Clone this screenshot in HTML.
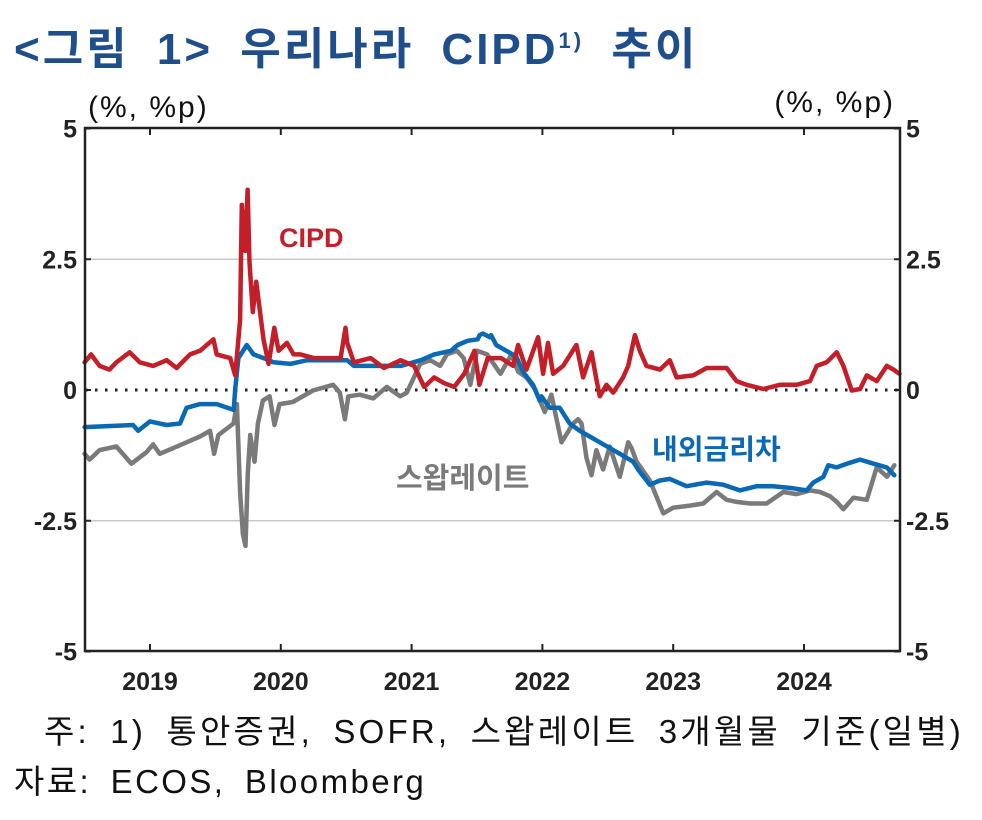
<!DOCTYPE html>
<html><head><meta charset="utf-8"><style>
html,body{margin:0;padding:0;background:#fff;}
body{width:982px;height:820px;position:relative;overflow:hidden;font-family:"Liberation Sans","Noto Sans CJK KR",sans-serif;}
.t{position:absolute;white-space:nowrap;}
</style></head><body>
<div class="t" style="left:14px;top:13px;font-size:44px;font-weight:bold;color:#1f4e8c;letter-spacing:3px;word-spacing:12px;">&lt;그림 1&gt; 우리나라 CIPD<sup style="font-size:22px;vertical-align:16px;">1)</sup> 추이</div>
<svg id="chart" width="982" height="820" style="position:absolute;left:0;top:0;" xmlns="http://www.w3.org/2000/svg"></svg>
<div class="t" style="left:44px;top:705px;font-size:33px;color:#111;letter-spacing:3.2px;word-spacing:8px;">주: 1) 통안증권, SOFR, 스왑레이트 3개월물 기준(일별)</div>
<div class="t" style="left:14px;top:755px;font-size:33px;color:#111;letter-spacing:2.4px;word-spacing:8px;">자료: ECOS, Bloomberg</div>
<script>
const yTicks=[5,2.5,0,-2.5,-5];
const yTickLabels=["5","2.5","0","-2.5","-5"];
const xTicks=[2019.5,2020.5,2021.5,2022.5,2023.5,2024.5];
const xTickLabels=["2019","2020","2021","2022","2023","2024"];
const cipdT=[2019.0,2019.05,2019.115,2019.19,2019.243,2019.345,2019.422,2019.524,2019.627,2019.703,2019.806,2019.882,2019.985,2020.01,2020.113,2020.151,2020.189,2020.202,2020.228,2020.246,2020.261,2020.286,2020.312,2020.368,2020.407,2020.45,2020.483,2020.547,2020.598,2020.65,2020.752,2020.854,2020.957,2020.995,2021.008,2021.059,2021.187,2021.289,2021.417,2021.519,2021.596,2021.673,2021.749,2021.826,2021.903,2021.98,2022.018,2022.082,2022.184,2022.276,2022.314,2022.378,2022.467,2022.505,2022.543,2022.582,2022.658,2022.76,2022.811,2022.875,2022.913,2022.939,2022.99,2023.041,2023.117,2023.156,2023.207,2023.245,2023.296,2023.398,2023.474,2023.526,2023.653,2023.755,2023.908,2023.985,2024.061,2024.189,2024.316,2024.444,2024.546,2024.597,2024.673,2024.75,2024.801,2024.865,2024.929,2024.98,2025.056,2025.133,2025.184,2025.23];
const cipdV=[0.53,0.68,0.46,0.39,0.53,0.72,0.53,0.46,0.57,0.42,0.68,0.75,0.97,0.68,0.61,0.28,1.34,3.54,2.66,3.83,2.44,1.49,2.07,0.97,0.5,1.19,0.75,0.9,0.68,0.68,0.61,0.61,0.61,1.19,0.9,0.53,0.61,0.42,0.57,0.46,0.06,0.24,0.13,0.06,0.31,0.75,0.1,0.61,0.61,0.46,0.86,0.39,1.01,0.31,0.9,0.31,0.46,0.86,0.24,0.72,0.2,-0.12,0.1,-0.05,0.24,0.46,1.05,0.75,0.46,0.39,0.57,0.24,0.28,0.42,0.42,0.17,0.1,0.02,0.1,0.1,0.17,0.46,0.53,0.72,0.46,-0.01,0.02,0.28,0.17,0.46,0.39,0.31];
const gapT=[2019.0,2019.37,2019.41,2019.5,2019.627,2019.729,2019.78,2019.882,2020.01,2020.14,2020.151,2020.176,2020.24,2020.291,2020.368,2020.445,2020.573,2020.701,2020.905,2021.008,2021.059,2021.417,2021.57,2021.673,2021.8,2021.852,2021.928,2022.005,2022.044,2022.108,2022.02,2022.097,2022.147,2022.224,2022.3,2022.352,2022.428,2022.479,2022.492,2022.556,2022.632,2022.709,2022.786,2022.862,2022.939,2023.092,2023.194,2023.232,2023.321,2023.398,2023.474,2023.602,2023.755,2023.883,2024.01,2024.138,2024.265,2024.418,2024.52,2024.571,2024.648,2024.686,2024.75,2024.827,2024.929,2025.031,2025.133,2025.19];
const gapV=[-0.71,-0.67,-0.78,-0.6,-0.67,-0.64,-0.34,-0.27,-0.27,-0.38,0.02,0.61,0.86,0.68,0.61,0.53,0.5,0.57,0.57,0.57,0.46,0.46,0.57,0.68,0.75,0.86,0.94,0.97,1.08,1.05,1.05,1.01,0.86,0.75,0.64,0.35,0.1,-0.2,-0.12,-0.34,-0.34,-0.64,-0.78,-0.89,-1.0,-1.22,-1.37,-1.52,-1.81,-1.73,-1.7,-1.84,-1.77,-1.81,-1.92,-1.84,-1.84,-1.88,-1.92,-1.77,-1.66,-1.44,-1.48,-1.41,-1.33,-1.41,-1.48,-1.63];
const swapT=[2019.0,2019.038,2019.115,2019.243,2019.358,2019.473,2019.524,2019.575,2019.678,2019.78,2019.882,2019.959,2019.99,2020.023,2020.138,2020.164,2020.189,2020.21,2020.23,2020.248,2020.266,2020.299,2020.325,2020.363,2020.414,2020.452,2020.49,2020.592,2020.746,2020.9,2020.951,2020.99,2021.016,2021.105,2021.207,2021.31,2021.412,2021.463,2021.566,2021.642,2021.719,2021.77,2021.847,2021.898,2021.949,2022.0,2022.077,2022.18,2022.263,2022.314,2022.378,2022.442,2022.518,2022.569,2022.646,2022.735,2022.773,2022.799,2022.837,2022.875,2022.913,2022.964,2023.015,2023.092,2023.156,2023.181,2023.22,2023.322,2023.424,2023.5,2023.628,2023.73,2023.832,2023.908,2023.985,2024.087,2024.214,2024.342,2024.444,2024.546,2024.622,2024.699,2024.75,2024.801,2024.878,2024.98,2025.056,2025.135,2025.19];
const swapV=[-1.22,-1.33,-1.15,-1.08,-1.41,-1.19,-1.04,-1.22,-1.11,-1.0,-0.89,-0.78,-1.22,-0.86,-0.64,-0.27,-1.95,-2.76,-2.98,-1.59,-0.86,-1.37,-0.64,-0.2,-0.12,-0.67,-0.27,-0.23,-0.01,0.1,-0.05,-0.56,-0.12,-0.09,-0.16,0.06,-0.12,-0.05,0.5,0.57,0.46,0.68,0.75,0.61,0.1,0.75,0.68,0.31,0.68,0.35,0.24,0.02,-0.42,-0.09,-1.0,-0.64,-0.56,-0.64,-1.3,-1.63,-1.15,-1.52,-1.08,-1.66,-1.0,-1.11,-1.37,-1.73,-2.36,-2.25,-2.21,-2.17,-1.95,-2.1,-2.14,-2.17,-2.17,-1.95,-1.99,-1.92,-1.95,-2.03,-2.14,-2.28,-2.06,-2.1,-1.48,-1.66,-1.44,-1.66,-1.95,-1.99];
const L=85,R=900,T=128,B=651;
function X(t){return 150+(t-2019.5)*130.8;}
function Y(v){return 390-v*52.3;}
const NS="http://www.w3.org/2000/svg";
const svg=document.getElementById('chart');
function mk(tag,attrs){const e=document.createElementNS(NS,tag);for(const k in attrs)e.setAttribute(k,attrs[k]);svg.appendChild(e);return e;}
yTicks.forEach((v,i)=>{
  if(v===2.5||v===-2.5){const g=mk('line',{x1:L,x2:R,y1:Y(v),y2:Y(v),stroke:'#c8c8c8','stroke-width':1.5});
  
  }
  const tl=mk('line',{x1:L,x2:L+6,y1:Y(v),y2:Y(v),stroke:'#222','stroke-width':2});
  
  
  const tr=mk('line',{x1:R-6,x2:R,y1:Y(v),y2:Y(v),stroke:'#222','stroke-width':2});
  
  
  const a=mk('text',{x:77,y:Y(v)+9,'text-anchor':'end','font-size':25,'font-weight':'bold',fill:'#222','font-family':'Liberation Sans, sans-serif'});
  a.textContent=yTickLabels[i];
  
  
  const b=mk('text',{x:906,y:Y(v)+9,'text-anchor':'start','font-size':25,'font-weight':'bold',fill:'#222','font-family':'Liberation Sans, sans-serif'});
  b.textContent=yTickLabels[i];
  
  
});
xTicks.forEach((t,i)=>{
  const a=mk('line',{x1:X(t),x2:X(t),y1:T,y2:T+7,stroke:'#222','stroke-width':2});
  
  
  const b=mk('line',{x1:X(t),x2:X(t),y1:B-7,y2:B,stroke:'#222','stroke-width':2});
  
  
  const l=mk('text',{x:X(t),y:690,'text-anchor':'middle','font-size':25,'font-weight':'bold',fill:'#222','font-family':'Liberation Sans, sans-serif'});
  l.textContent=xTickLabels[i];
  
  
});
const z=mk('line',{x1:L,x2:R,y1:Y(0),y2:Y(0),stroke:'#222','stroke-width':3,'stroke-dasharray':'2.5 7.5'});


function series(ts,vs,color,name){
  const idx=ts.map((t,i)=>i).sort((a,b)=>ts[a]-ts[b]);
  const d=idx.map((i,k)=>(k?'L':'M')+X(ts[i]).toFixed(1)+' '+Y(vs[i]).toFixed(1)).join(' ');
  const p=mk('path',{d:d,fill:'none',stroke:color,'stroke-width':4.5,'stroke-linejoin':'round','stroke-linecap':'round'});
  
  
}
series(swapT,swapV,'#7a7a7a','swap-rate-line');
series(gapT,gapV,'#0a69b5','rate-gap-line');
series(cipdT,cipdV,'#c41f28','cipd-line');
const fr=mk('rect',{x:L,y:T,width:R-L,height:B-T,fill:'none',stroke:'#222','stroke-width':2.5});


function label(txt,x,y,color,size,name){
  const e=mk('text',{x:x,y:y,'font-size':size,'font-weight':'bold',fill:color,'font-family':'Liberation Sans, Noto Sans CJK KR, sans-serif'});
  e.textContent=txt;
  
  
}
label('CIPD',279,247,'#c41f28',27,'cipd-label');
label('내외금리차',652,459,'#0a69b5',28,'rate-gap-label');
label('스왑레이트',396,488,'#7a7a7a',29,'swap-rate-label');
const u1=mk('text',{x:88,y:117,'font-size':30,fill:'#111','letter-spacing':2,'font-family':'Liberation Sans, sans-serif'});
u1.textContent='(%, %p)';


const u2=mk('text',{x:895,y:112,'font-size':30,fill:'#111','letter-spacing':2,'text-anchor':'end','font-family':'Liberation Sans, sans-serif'});
u2.textContent='(%, %p)';


</script>
</body></html>
